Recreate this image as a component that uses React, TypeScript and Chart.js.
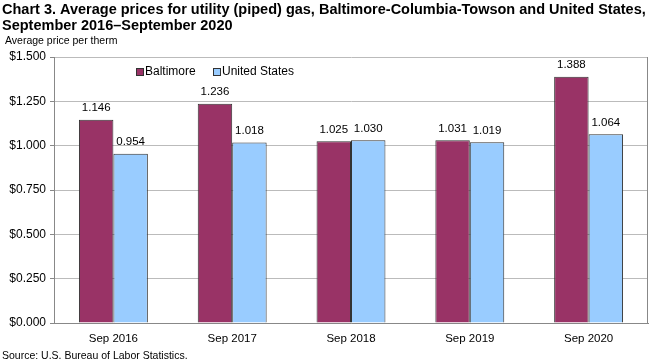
import React, { useEffect, useRef } from "react";
import { Chart, registerables } from "chart.js";
Chart.register(...registerables);

const categories = ["Sep 2016", "Sep 2017", "Sep 2018", "Sep 2019", "Sep 2020"];
const baltimore = [1.146, 1.236, 1.025, 1.031, 1.388];
const unitedStates = [0.954, 1.018, 1.03, 1.019, 1.064];
const seriesNames = ["Baltimore", "United States"];
const titleLines = [
  "Chart 3. Average prices for utility (piped) gas, Baltimore-Columbia-Towson and United States,",
  "September 2016\u2013September 2020",
];
const axisLabel = "Average price per therm";
const sourceText = "Source: U.S. Bureau of Labor Statistics.";

const FONT = "Arial, 'Liberation Sans', sans-serif";

export default function App() {
  const ref = useRef<HTMLCanvasElement>(null);
  useEffect(() => {
    document.body.style.margin = "0";
    const textPlugin = {
      id: "texts",
      afterDraw(chart: any) {
        const ctx = chart.ctx;
        const area = chart.chartArea;
        ctx.save();
        ctx.strokeStyle = "#888";
        ctx.lineWidth = 1;
        ctx.beginPath();
        ctx.moveTo(area.right - 0.5, area.top);
        ctx.lineTo(area.right - 0.5, area.bottom);
        ctx.stroke();
        ctx.fillStyle = "#000";
        ctx.textBaseline = "alphabetic";
        ctx.textAlign = "left";
        ctx.font = `bold 14.5px ${FONT}`;
        ctx.fillText(titleLines[0], 2, 14);
        ctx.fillText(titleLines[1], 2, 30);
        ctx.font = `10.5px ${FONT}`;
        ctx.fillText(axisLabel, 5, 44);
        ctx.fillText(sourceText, 2, 359);
        const lx = area.left + 82;
        const ly = area.top + 15;
        const colors = ["#993366", "#99CCFF"];
        let x = lx;
        ctx.font = `12px ${FONT}`;
        ctx.textBaseline = "middle";
        seriesNames.forEach((n, i) => {
          ctx.fillStyle = colors[i];
          ctx.fillRect(x, ly - 4, 8, 8);
          ctx.strokeStyle = "#333";
          ctx.strokeRect(x + 0.5, ly - 3.5, 7, 7);
          ctx.fillStyle = "#000";
          ctx.fillText(n, x + 9, ly);
          x += 77;
        });
        ctx.font = `11.5px ${FONT}`;
        ctx.textAlign = "center";
        ctx.textBaseline = "bottom";
        chart.data.datasets.forEach((ds: any, di: number) => {
          const meta = chart.getDatasetMeta(di);
          meta.data.forEach((bar: any, i: number) => {
            ctx.fillStyle = "#000";
            ctx.fillText(ds.data[i].toFixed(3), bar.x, bar.y - 6);
          });
        });
        ctx.restore();
      },
    };
    const chart = new Chart(ref.current!, {
      type: "bar",
      data: {
        labels: categories,
        datasets: [
          {
            label: seriesNames[0],
            data: baltimore,
            backgroundColor: "#993366",
            borderColor: "#333333",
            borderWidth: 1,
            categoryPercentage: 0.58,
            barPercentage: 1,
          },
          {
            label: seriesNames[1],
            data: unitedStates,
            backgroundColor: "#99CCFF",
            borderColor: "#333333",
            borderWidth: 1,
            categoryPercentage: 0.58,
            barPercentage: 1,
          },
        ],
      },
      options: {
        animation: false,
        responsive: false,
        layout: { padding: { left: 0, right: 2, top: 57, bottom: 0 } },
        plugins: { legend: { display: false }, tooltip: { enabled: false } },
        scales: {
          x: {
            afterFit(scale: any) {
              scale.height = 37;
            },
            grid: { display: false, drawTicks: false },
            border: { display: true, color: "#888" },
            ticks: { color: "#000", font: { family: FONT, size: 11.5 }, padding: 9 },
          },
          y: {
            min: 0,
            max: 1.5,
            afterFit(scale: any) {
              scale.width = 54;
            },
            ticks: {
              stepSize: 0.25,
              color: "#000",
              font: { family: FONT, size: 12 },
              padding: 4,
              callback: (v: any) => "$" + Number(v).toFixed(3),
            },
            grid: { color: "#bbbbbb", tickLength: 4, tickColor: "#888" },
            border: { display: true, color: "#888" },
          },
        },
      },
      plugins: [textPlugin],
    });
    return () => chart.destroy();
  }, []);
  return <canvas ref={ref} width={650} height={360} style={{ display: "block" }} />;
}
